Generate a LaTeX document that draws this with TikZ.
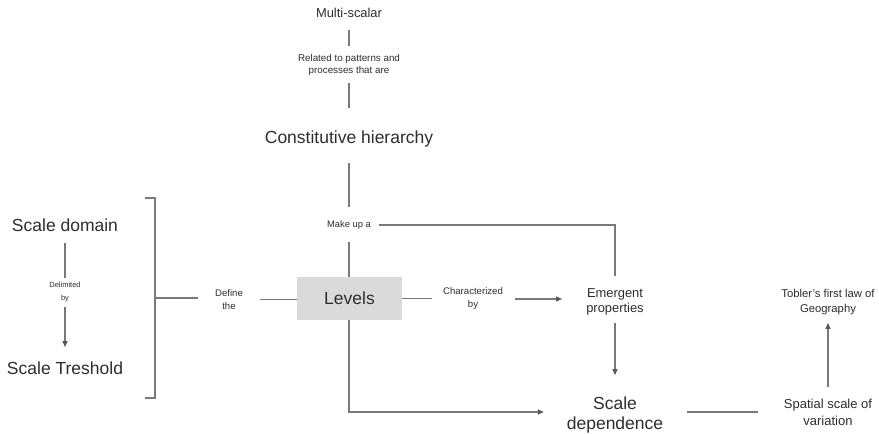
\documentclass[tikz,border=0pt]{standalone}
\usepackage{fontspec}
\setmainfont{Liberation Sans}
\usetikzlibrary{arrows.meta}
\definecolor{linegray}{HTML}{7A7A7A}
\definecolor{txtgray}{HTML}{2E2E2E}
\definecolor{boxgray}{HTML}{DADADA}
\begin{document}
\begin{tikzpicture}[x=1pt,y=-1pt,
  every node/.style={inner sep=0pt, outer sep=0pt, text=txtgray, align=center},
  bigtxt/.style={font=\fontsize{17.5}{20}\selectfont},
  medtxt/.style={font=\fontsize{12.9}{15}\selectfont},
  tobtxt/.style={font=\fontsize{11.3}{15}\selectfont},
  smalltxt/.style={font=\fontsize{9.6}{13}\selectfont},
  tinytxt/.style={font=\fontsize{7.5}{13}\selectfont},
  conn/.style={draw=linegray, line width=1.3pt},
  arr/.style={conn, -{Triangle[length=6pt,width=5pt,color=txtgray!80]}},
  levelbox/.style={fill=boxgray, minimum width=105pt, minimum height=43pt, font=\fontsize{17.5}{20}\selectfont}
]
\useasboundingbox (0,0) rectangle (879,434);
\fill[white] (0,0) rectangle (879,434);

% nodes
\node[medtxt] (multi) at (349,13) {Multi-scalar};
\node[smalltxt, font=\fontsize{9.8}{12}\selectfont] (related) at (349,65) {Related to patterns and\\processes that are};
\node[bigtxt] (constit) at (349,139) {Constitutive hierarchy};
\node[smalltxt, font=\fontsize{9.4}{12}\selectfont] (makeup) at (349,225) {Make up a};
\node[levelbox] (levels) at (349.5,298.5) {Levels};
\node[smalltxt] (define) at (229,299.5) {Define\\the};
\node[smalltxt] (charby) at (473,299) {Characterized\\by};
\node[medtxt] (emergent) at (615,301.8) {Emergent\\properties};
\node[bigtxt] (scaledep) at (615,414.75) {Scale\\dependence};
\node[medtxt, font=\fontsize{13}{17}\selectfont] (spatial) at (828,412.5) {Spatial scale of\\variation};
\node[tobtxt] (tobler) at (828,301.7) {Tobler's first law of\\Geography};
\node[bigtxt] (scaledom) at (65,225) {Scale domain};
\node[tinytxt] (delim) at (65,292.25) {Delimited\\by};
\node[bigtxt] (scaletresh) at (65,368) {Scale Treshold};

% bracket
\coordinate (brtop) at (155,198);
\coordinate (brbot) at (155,398);
\coordinate (brmid) at (155,298);
\coordinate (brtopl) at (145,198);
\coordinate (brbotl) at (145,398);
\draw[conn] (brtopl) -- (brtop) -- (brbot) -- (brbotl);

% connectors
\draw[conn, shorten <=12pt, shorten >=8.4pt] (multi.south) -- (related.north);
\draw[conn, shorten <=7.4pt, shorten >=22.5pt] (related.south) -- (constit.north);
\draw[conn, shorten <=16pt, shorten >=13.5pt] (constit.south) -- (makeup.north);
\draw[conn, shorten <=13pt] (makeup.south) -- (makeup.south |- levels.north);
\draw[conn, shorten <=8pt, shorten >=13pt] (makeup.east) -| (emergent.north);
\draw[conn, shorten >=17pt] (brmid) -- (brmid -| define.west);
\draw[conn, shorten <=17pt] (define.east) -- (define.east -| levels.west);
\draw[conn, shorten >=11pt] (levels.east) -- (levels.east -| charby.west);
\draw[arr, shorten <=12pt, shorten >=24.3pt] (charby.east) -- (charby.east -| emergent.west);
\draw[arr, shorten <=7.7pt, shorten >=21.5pt] (emergent.south) -- (scaledep.north);
\draw[arr, shorten >=23pt] (makeup.south |- levels.south) |- ([yshift=2.75pt]scaledep.west);
\draw[conn, shorten <=24pt, shorten >=25.5pt] ([yshift=2.75pt]scaledep.east) -- ([yshift=2.75pt]scaledep.east -| spatial.west);
\draw[arr, shorten <=12.2pt, shorten >=8.5pt] (spatial.north) -- (tobler.south);
\draw[conn, shorten <=11.5pt, shorten >=4.2pt] (scaledom.south) -- (delim.north);
\draw[arr, shorten <=4.7pt, shorten >=14.5pt] (delim.south) -- (scaletresh.north);
\end{tikzpicture}
\end{document}
